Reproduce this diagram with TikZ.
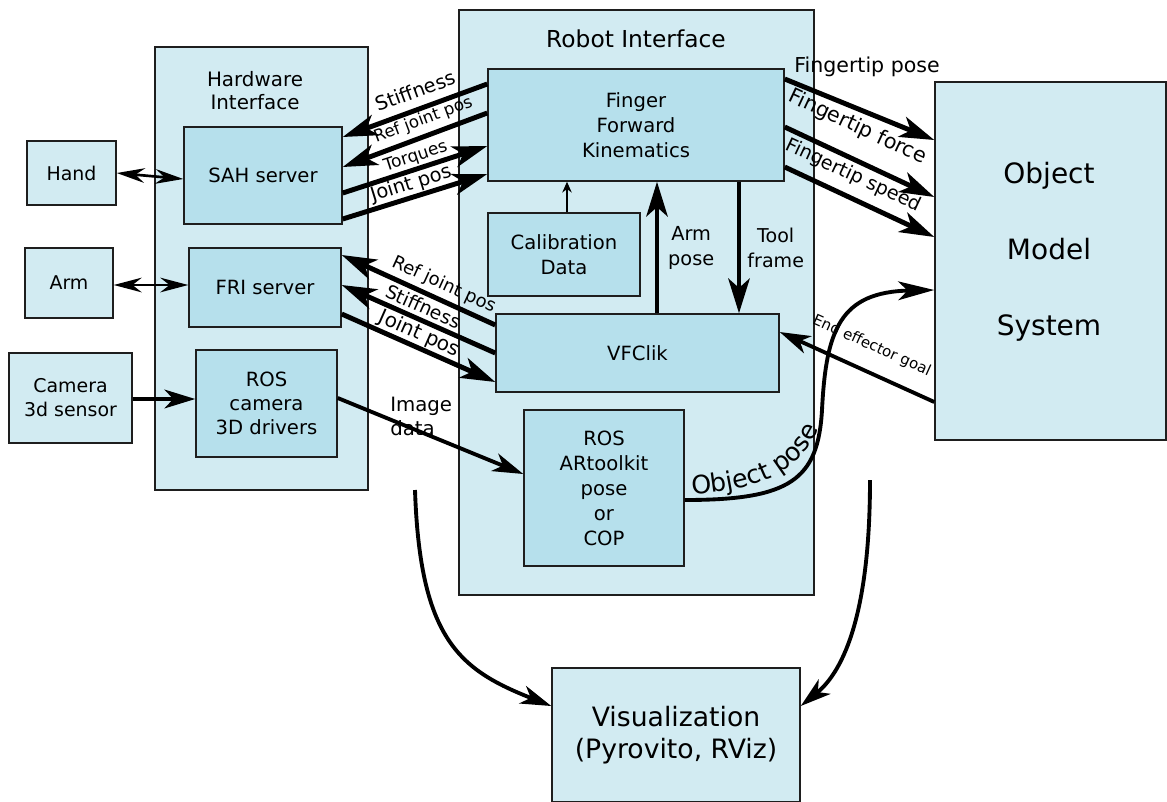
\documentclass[tikz,border=0pt]{standalone}
\usepackage{fontspec}
\setmainfont{DejaVu Sans}
\usetikzlibrary{arrows.meta,decorations.text}
\definecolor{outerfill}{RGB}{210,235,242}
\definecolor{innerfill}{RGB}{182,224,236}
\definecolor{edgecol}{RGB}{30,30,30}
\newcommand{\fsz}[2]{\fontsize{#1}{#2}\selectfont}
\begin{document}
\begin{tikzpicture}[x=0.75pt,y=-0.75pt,
  outerbox/.style={draw=edgecol, fill=outerfill, line width=1.1pt, inner sep=0pt, align=center},
  innerbox/.style={draw=edgecol, fill=innerfill, line width=1.1pt, inner sep=0pt, align=center, font=\fsz{14.7pt}{18.75pt}},
  extbox/.style={innerbox, fill=outerfill, font=\fsz{14.2pt}{18pt}},
  thickarrow/.style={line width=3.7pt, -{Stealth[length=26pt,width=16pt,inset=7pt]}},
  medarrow/.style={line width=2.9pt, -{Stealth[length=23pt,width=14pt,inset=6.5pt]}},
  dblarrow/.style={line width=2pt, {Stealth[length=21pt,width=11pt,inset=7pt]}-{Stealth[length=21pt,width=11pt,inset=7pt]}},
  smallarrow/.style={line width=1.5pt, -{Stealth[length=8pt,width=7pt,inset=2.5pt]}},
  lbl/.style={inner sep=0pt, sloped},
]
\useasboundingbox (0,0) rectangle (1167,801);
% outer boxes
\node[outerbox, minimum width=159.75pt, minimum height=332.25pt] (hw) at (261.5,268.5) {};
\node[outerbox, minimum width=266.25pt, minimum height=438.75pt] (ri) at (636.5,302.5) {};
\node[outerbox, minimum width=173.25pt, minimum height=268.5pt] (oms) at (1050.5,261) {};
\node[outerbox, minimum width=186pt, minimum height=100.5pt, font=\fsz{20pt}{24pt}] (vis) at (676,735) {Visualization\\(Pyrovito, RViz)};
% titles
\node[font=\fsz{14.9pt}{17.25pt}, align=center] (hwtitle) at (255,90.5) {Hardware\\Interface};
\node[font=\fsz{17.5pt}{18pt}] (rititle) at (636,39) {Robot Interface};
\node[font=\fsz{21pt}{57pt}, align=center] (omstext) at (1049,251.5) {Object\\Model\\System};
% external boxes
\node[extbox, minimum width=66.75pt, minimum height=48pt] (hand) at (71.5,173) {Hand};
\node[extbox, minimum width=66pt, minimum height=52.5pt] (arm) at (69,283) {Arm};
\node[extbox, minimum width=92.25pt, minimum height=67.5pt] (cam) at (70.5,398) {Camera\\3d sensor};
% inner boxes
\node[innerbox, minimum width=118.5pt, minimum height=72.75pt] (sah) at (263,175.5) {SAH server};
\node[innerbox, minimum width=114pt, minimum height=59.25pt] (fri) at (265,287.5) {FRI server};
\node[innerbox, minimum width=105.75pt, minimum height=80.25pt, font=\fsz{14.7pt}{18pt}] (rosc) at (266.5,403.5) {ROS\\camera\\3D drivers};
\node[innerbox, minimum width=222pt, minimum height=84pt] (ffk) at (636,125) {Finger\\Forward\\Kinematics};
\node[innerbox, minimum width=114pt, minimum height=62.25pt] (cal) at (564,254.5) {Calibration\\Data};
\node[innerbox, minimum width=212.25pt, minimum height=58.5pt] (vfc) at (637.5,353) {VFClik};
\node[innerbox, minimum width=120pt, minimum height=117pt] (art) at (604,488) {ROS\\ARtoolkit\\pose\\or\\COP};
% hardware links
\draw[dblarrow] (hand.east) -- (sah.west |- 0,179);
\draw[dblarrow] (arm.east |- 0,285) -- (fri.west |- 0,285);
\draw[medarrow] (cam.east |- 0,399) -- (rosc.west |- 0,399);
\draw[medarrow] (rosc.east |- 0,398) -- (art.west |- 0,474) node[pos=0.45, yshift=12pt, inner sep=0pt, align=left, font=\fsz{14.8pt}{18pt}] {Image\\data};
% SAH <-> FFK
\draw[thickarrow] (ffk.west |- 0,84) -- (sah.east |- 0,137) node[lbl, pos=0.453, above=6.4pt, font=\fsz{14.6pt}{16pt}] {Stiffness};
\draw[thickarrow] (ffk.west |- 0,113) -- (sah.east |- 0,167) node[lbl, pos=0.404, above=4pt, font=\fsz{12.5pt}{14pt}] {Ref joint pos};
\draw[thickarrow] (sah.east |- 0,193) -- (ffk.west |- 0,146) node[lbl, pos=0.53, above=1pt, font=\fsz{12.8pt}{13pt}] {Torques};
\draw[thickarrow] (sah.east |- 0,219) -- (ffk.west |- 0,174) node[lbl, pos=0.50, above=0.8pt, font=\fsz{14.6pt}{16pt}] {Joint pos};
% FRI <-> VFClik
\draw[thickarrow] (vfc.west |- 0,325) -- (fri.east |- 0,255) node[lbl, pos=0.376, above=2.9pt, font=\fsz{13.5pt}{15pt}] {Ref joint pos};
\draw[thickarrow] (vfc.west |- 0,353) -- (fri.east |- 0,285) node[lbl, pos=0.503, above=2.7pt, font=\fsz{14pt}{15pt}] {Stiffness};
\draw[thickarrow] (fri.east |- 0,314) -- (vfc.west |- 0,382) node[lbl, pos=0.471, above=0.7pt, font=\fsz{15pt}{16pt}] {Joint pos};
% internal
\draw[smallarrow] (cal.north -| 567,0) -- (ffk.south -| 567,0);
\draw[thickarrow] (vfc.north -| 657,0) -- (ffk.south -| 657,0) node[midway, right=6.5pt, inner sep=0pt, align=center, font=\fsz{14.5pt}{18.75pt}] {Arm\\pose};
\draw[thickarrow] (ffk.south -| 739,0) -- (vfc.north -| 739,0) node[midway, right=4.5pt, inner sep=0pt, align=center, font=\fsz{14.3pt}{18.75pt}] {Tool\\frame};
% to object model
\draw[thickarrow] (ffk.east |- 0,79) -- (oms.west |- 0,140) node[pos=0.55, yshift=34.2pt, inner sep=0pt, font=\fsz{15.4pt}{16pt}] {Fingertip pose};
\draw[thickarrow] (ffk.east |- 0,127) -- (oms.west |- 0,197) node[lbl, pos=0.40, above=13.5pt, font=\fsz{15.5pt}{16pt}] {Fingertip force};
\draw[thickarrow] (ffk.east |- 0,167) -- (oms.west |- 0,237) node[lbl, pos=0.40, above=7pt, font=\fsz{14.3pt}{16pt}] {Fingertip speed};
\draw[medarrow] (oms.west |- 0,402) -- (vfc.east |- 0,332) node[lbl, pos=0.472, above=12pt, font=\fsz{11.2pt}{12pt}] {End effector goal};
% object pose
\draw[medarrow, -{Stealth[length=27pt,width=14pt,inset=7pt]}] (art.east |- 0,500) .. controls (790,500) and (818,480) .. (822,410) .. controls (826,330) and (840,292) .. (oms.west |- 0,290);
\coordinate (opA) at (692,494);
\coordinate (opB) at (825,415);
\path[decorate, decoration={text along path, text={|\fsz{19pt}{19pt}|Object pose}, text align={left}, raise=0pt}] (opA) .. controls (765,490) and (805,470) .. (opB);
% to visualization
\coordinate (visL) at (415,490);
\coordinate (visR) at (870,480);
\draw[medarrow] (visL) .. controls (420,640) and (460,670) .. (vis.west |- 0,706);
\draw[medarrow] (visR) .. controls (870,610) and (845,670) .. (vis.east |- 0,706);
\end{tikzpicture}
\end{document}
